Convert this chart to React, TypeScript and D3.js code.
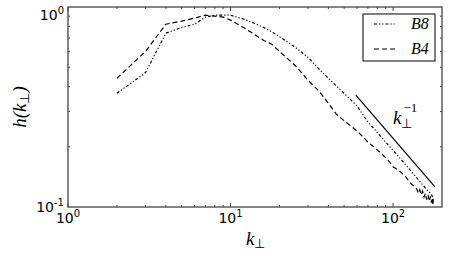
import * as d3 from 'd3';

// wavenumber / spectrum values
const kB4 = [2, 3, 4, 5, 6, 7, 8, 9, 10, 12, 14, 16, 18, 20, 25, 30, 35, 40, 45, 50, 55, 60, 65, 70, 75, 80, 85, 90, 95, 100, 105, 110, 115, 120, 125, 130, 135, 140, 143, 146, 149, 152, 155, 158, 161, 164, 167, 170, 172, 174, 176, 177];
const hB4 = [0.44, 0.6, 0.82, 0.85, 0.88, 0.91, 0.9, 0.89, 0.86, 0.79, 0.73, 0.68, 0.65, 0.6, 0.51, 0.43, 0.38, 0.33, 0.29, 0.27, 0.254, 0.24, 0.225, 0.211, 0.202, 0.193, 0.185, 0.176, 0.168, 0.159, 0.155, 0.151, 0.146, 0.141, 0.135, 0.13, 0.127, 0.123, 0.117, 0.122, 0.115, 0.12, 0.112, 0.117, 0.109, 0.115, 0.107, 0.113, 0.105, 0.111, 0.102, 0.113];

const kB8 = [2, 3, 4, 5, 6, 7, 8, 9, 10, 12, 14, 16, 18, 20, 25, 30, 35, 40, 50, 60, 70, 80, 90, 100, 120, 140, 160, 170, 176];
const hB8 = [0.37, 0.47, 0.74, 0.79, 0.82, 0.89, 0.91, 0.91, 0.91, 0.87, 0.83, 0.79, 0.75, 0.71, 0.63, 0.56, 0.49, 0.44, 0.37, 0.32, 0.266, 0.236, 0.211, 0.192, 0.162, 0.14, 0.123, 0.117, 0.112];

// k^-1 reference slope
const refK = [59, 181];
const refH = [0.363, 0.126];

const xMajor = [1, 10, 100];
const xMajorExp = ['0', '1', '2'];
const yMajor = [0.1, 1];
const yMajorExp = ['-1', '0'];

const W = 452;
const H = 259;
const M = { left: 68, right: 442, top: 7, bottom: 207 };

export default function App() {
  const x = d3.scaleLog().domain([1, 200]).range([M.left, M.right]);
  const y = d3.scaleLog().domain([0.1, 1]).range([M.bottom, M.top]);

  const line = d3
    .line<[number, number]>()
    .x(d => x(d[0]))
    .y(d => y(d[1]));

  const b4 = line(kB4.map((k, i) => [k, hB4[i]]));
  const b8 = line(kB8.map((k, i) => [k, hB8[i]]));
  const ref = line(refK.map((k, i) => [k, refH[i]]));

  const xMinor: number[] = [];
  [1, 10, 100].forEach(d => {
    for (let m = 2; m <= 9; m++) if (d * m < 200) xMinor.push(d * m);
  });
  const yMinor = d3.range(2, 10).map(m => m / 10);

  const axisCol = '#444';
  const tickFont = "'DejaVu Sans', sans-serif";
  const mathFont = "'Liberation Serif', serif";
  const dashB4 = '5,3';
  const dashB8 = '3,2,1.2,2,1.2,2';

  return (
    <svg width={W} height={H} style={{ position: 'absolute', left: 0, top: 0 }}>
      <rect width={W} height={H} fill="#fff" />

      <path d={b4 || ''} fill="none" stroke="#000" strokeWidth={1.2} strokeDasharray={dashB4} />
      <path d={b8 || ''} fill="none" stroke="#000" strokeWidth={1.2} strokeDasharray={dashB8} />
      <path d={ref || ''} fill="none" stroke="#000" strokeWidth={1.2} />

      {/* ticks, all four sides pointing inward */}
      <g stroke={axisCol} strokeWidth={1}>
        {xMajor.map(v => (
          <g key={'xM' + v}>
            <line x1={x(v)} x2={x(v)} y1={M.bottom} y2={M.bottom - 4} />
            <line x1={x(v)} x2={x(v)} y1={M.top} y2={M.top + 4} />
          </g>
        ))}
        {xMinor.map(v => (
          <g key={'xm' + v}>
            <line x1={x(v)} x2={x(v)} y1={M.bottom} y2={M.bottom - 2} />
            <line x1={x(v)} x2={x(v)} y1={M.top} y2={M.top + 2} />
          </g>
        ))}
        {yMinor.map(v => (
          <g key={'ym' + v}>
            <line x1={M.left} x2={M.left + 2} y1={y(v)} y2={y(v)} />
            <line x1={M.right} x2={M.right - 2} y1={y(v)} y2={y(v)} />
          </g>
        ))}
      </g>

      <rect
        x={M.left}
        y={M.top}
        width={M.right - M.left}
        height={M.bottom - M.top}
        fill="none"
        stroke={axisCol}
        strokeWidth={1.3}
      />

      {/* tick labels */}
      {xMajor.map((v, i) => (
        <text key={'xl' + v} x={x(v)} y={M.bottom + 16} textAnchor="middle" fontFamily={tickFont} fontSize={14}>
          10<tspan fontSize={10} dy={-6}>{xMajorExp[i]}</tspan>
        </text>
      ))}
      {yMajor.map((v, i) => (
        <text
          key={'yl' + v}
          x={M.left - 4}
          y={i === 1 ? y(v) + 13 : y(v) + 5}
          textAnchor="end"
          fontFamily={tickFont}
          fontSize={14}
        >
          10<tspan fontSize={10} dy={-6}>{yMajorExp[i]}</tspan>
        </text>
      ))}

      {/* axis titles */}
      <text x={246} y={245} fontFamily={mathFont} fontStyle="italic" fontSize={19}>
        k<tspan fontStyle="normal" fontSize={13} dy={3}>⊥</tspan>
      </text>
      <text
        transform={`translate(26, ${(M.top + M.bottom) / 2}) rotate(-90)`}
        textAnchor="middle"
        fontFamily={mathFont}
        fontStyle="italic"
        fontSize={19}
      >
        h(k<tspan fontStyle="normal" fontSize={13} dy={3}>⊥</tspan>
        <tspan dy={-3}>)</tspan>
      </text>

      {/* slope annotation */}
      <text x={393} y={124} fontFamily={mathFont} fontStyle="italic" fontSize={19}>
        k<tspan fontStyle="normal" fontSize={13} dy={4}>⊥</tspan>
        <tspan fontStyle="normal" fontSize={13} dx={-9} dy={-16}>−1</tspan>
      </text>

      {/* legend */}
      <rect x={363} y={14} width={72} height={47} fill="#fff" stroke="#000" strokeWidth={1} />
      <line x1={374} x2={396} y1={24} y2={24} stroke="#000" strokeWidth={1.2} strokeDasharray={dashB8} />
      <line x1={374} x2={396} y1={49} y2={49} stroke="#000" strokeWidth={1.2} strokeDasharray={dashB4} />
      <text x={411} y={29} fontFamily={mathFont} fontStyle="italic" fontSize={16}>B8</text>
      <text x={411} y={54} fontFamily={mathFont} fontStyle="italic" fontSize={16}>B4</text>
    </svg>
  );
}
